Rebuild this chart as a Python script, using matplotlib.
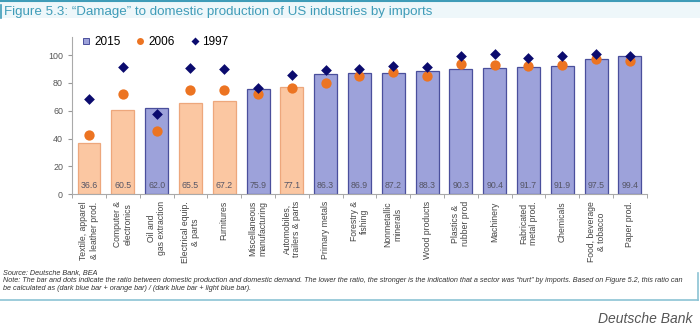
import numpy as np
import matplotlib.pyplot as plt
from matplotlib.lines import Line2D

plt.rcParams['font.family'] = ['Liberation Sans', 'DejaVu Sans']

# --- Data ---
categories = ["Textile, apparel\n& leather prod.", "Computer &\nelectronics", "Oil and\ngas extraction",
              "Electrical equip.\n& parts", "Furnitures", "Miscellaneous\nmanufacturing",
              "Automobiles,\ntrailers & parts", "Primary metals", "Forestry &\nfishing",
              "Nonmetallic\nminerals", "Wood products", "Plastics &\nrubber prod", "Machinery",
              "Fabricated\nmetal prod.", "Chemicals", "Food, beverage\n& tobacco", "Paper prod."]
val_2015 = [36.6, 60.5, 62.0, 65.5, 67.2, 75.9, 77.1, 86.3, 86.9, 87.2, 88.3, 90.3, 90.4, 91.7, 91.9, 97.5, 99.4]
val_2006 = [42.4, 72.2, 45.7, 74.7, 75.1, 72.0, 76.5, 80.1, 84.9, 87.8, 85.1, 93.8, 92.8, 92.3, 93.0, 97.3, 95.5]
val_1997 = [68.2, 91.6, 57.9, 90.4, 89.7, 76.5, 85.6, 89.0, 90.2, 92.3, 91.4, 99.5, 100.5, 97.8, 99.5, 100.5, 99.3]
highlight = [True, True, False, True, True, False, True] + [False] * 10

teal = '#3f9cb8'
fig = plt.figure(figsize=(7, 3.33), dpi=100)

# --- Frame and title ---
fig.patches.append(plt.Rectangle((0, 0.945), 1, 0.055, transform=fig.transFigure,
                                 facecolor='#eef7fa', edgecolor='none', zorder=0))
fig.add_artist(Line2D([0, 1], [0.997, 0.997], color=teal, lw=1.5, transform=fig.transFigure))
fig.add_artist(Line2D([0.002, 0.002], [0.945, 0.985], color=teal, lw=1.2, transform=fig.transFigure))
fig.add_artist(Line2D([0, 0.997], [0.099, 0.099], color='#8cc3d4', lw=1.2, transform=fig.transFigure))
fig.add_artist(Line2D([0.997, 0.997], [0.099, 0.18], color='#8cc3d4', lw=1.2, transform=fig.transFigure))
fig.text(0.006, 0.964, "Figure 5.3: \u201cDamage\u201d to domestic production of US industries by imports",
         color=teal, fontsize=9.6, va='center', ha='left')

# --- Chart ---
ax = fig.add_axes([0.103, 0.4165, 0.821, 0.4725])
x = np.arange(len(categories))
fills = ['#fbc7a2' if h else '#9da2da' for h in highlight]
edges = ['#eda77c' if h else '#4a4f9c' for h in highlight]
ax.bar(x, val_2015, width=0.68, color=fills, edgecolor=edges, linewidth=0.9, zorder=2)
ax.scatter(x, val_2006, s=55, color='#ec7422', marker='o', zorder=3, linewidths=0)
ax.scatter(x, val_1997, s=30, color='#0b0b6e', marker='D', zorder=4, linewidths=0)
for xi, v in zip(x, val_2015):
    ax.text(xi, 6, f"{v:.1f}", ha='center', va='center', fontsize=6.3, color='#555566')

ax.set_xlim(-0.5, len(categories) - 0.5)
ax.set_ylim(0, 113)
ax.set_yticks([0, 20, 40, 60, 80, 100])
ax.set_xticks(x)
ax.set_xticklabels(categories, rotation=90, fontsize=6.2, color='#444444', ha='center', va='top',
                   linespacing=1.15)
ax.set_xticks(np.arange(-0.5, len(categories), 1), minor=True)
ax.tick_params(axis='x', which='major', length=0, pad=5)
ax.tick_params(axis='x', which='minor', length=3, color='#999999', direction='out')
ax.tick_params(axis='y', labelsize=6.4, labelcolor='#555555', color='#999999', length=3)
for s in ['top', 'right']:
    ax.spines[s].set_visible(False)
for s in ['left', 'bottom']:
    ax.spines[s].set_color('#aaaaaa')

handles = [Line2D([], [], marker='s', color='none', markerfacecolor='#9da2da', markeredgecolor='#4a4f9c',
                  markersize=5, markeredgewidth=0.7),
           Line2D([], [], marker='o', color='none', markerfacecolor='#ec7422', markeredgecolor='none', markersize=5),
           Line2D([], [], marker='D', color='none', markerfacecolor='#0b0b6e', markeredgecolor='none', markersize=4)]
ax.legend(handles, ['2015', '2006', '1997'], loc='upper left', bbox_to_anchor=(-0.002, 1.075), ncol=3,
          frameon=False, fontsize=8.5, handlelength=0.8, handletextpad=0.25, columnspacing=1.3)

# --- Notes ---
fig.text(0.004, 0.178, "Source: Deutsche Bank, BEA", fontsize=5.2, style='italic', color='#333333')
fig.text(0.004, 0.153, "Note: The bar and dots indicate the ratio between domestic production and domestic demand. "
         "The lower the ratio, the stronger is the indication that a sector was \u201churt\u201d by imports. "
         "Based on Figure 5.2, this ratio can", fontsize=5.2, style='italic', color='#333333')
fig.text(0.004, 0.128, "be calculated as (dark blue bar + orange bar) / (dark blue bar + light blue bar).",
         fontsize=5.2, style='italic', color='#333333')
fig.text(0.99, 0.03, "Deutsche Bank", fontsize=10, style='italic', color='#555555', ha='right')

fig.savefig('out.png', dpi=100)
